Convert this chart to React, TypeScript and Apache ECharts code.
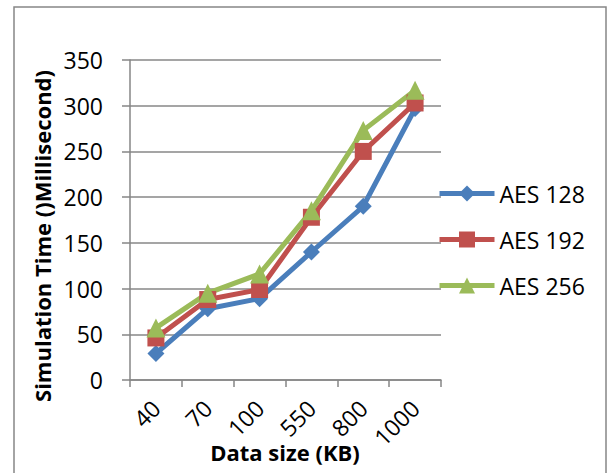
import React, { useEffect, useRef } from "react";
import * as echarts from "echarts";

const categories = ["40", "70", "100", "550", "800", "1000"];
const aes128 = [29, 78, 89, 140, 190, 297];
const aes192 = [46, 88, 99, 178, 250, 303];
const aes256 = [57, 95, 116, 185, 273, 317];
const seriesNames = ["AES 128", "AES 192", "AES 256"];
const yTicks = { min: 0, max: 350, interval: 50 };

const FONT = "'Open Sans', sans-serif";

export default function App() {
  const ref = useRef<HTMLDivElement>(null);
  useEffect(() => {
    if (!ref.current) return;
    const chart = echarts.init(ref.current, undefined, { renderer: "svg" });
    const mk = (name: string, data: number[], color: string, symbol: string, size: number) => ({
      name,
      type: "line",
      data,
      symbol,
      symbolSize: size,
      lineStyle: { color, width: 5 },
      itemStyle: { color },
      z: 3,
    });
    chart.setOption({
      animation: false,
      backgroundColor: "#ffffff",
      grid: { left: 130, right: 168, top: 60, bottom: 93, containLabel: false },
      legend: {
        orient: "vertical",
        left: 432,
        top: 177,
        itemWidth: 55,
        itemHeight: 20,
        itemGap: 23,
        lineStyle: { width: 5 },
        textStyle: { fontFamily: FONT, fontSize: 23, color: "#000" },
        data: seriesNames,
      },
      xAxis: {
        type: "category",
        data: categories,
        boundaryGap: true,
        axisLine: { lineStyle: { color: "#868686", width: 1.5 } },
        axisTick: { show: true, length: 7, alignWithLabel: false, lineStyle: { color: "#868686", width: 1.5 } },
        axisLabel: { rotate: 45, margin: 24, fontFamily: FONT, fontSize: 23, color: "#000" },
        splitLine: { show: false },
      },
      yAxis: {
        type: "value",
        min: yTicks.min,
        max: yTicks.max,
        interval: yTicks.interval,
        axisLine: { show: true, lineStyle: { color: "#868686", width: 1.5 } },
        axisTick: { show: true, length: 8, lineStyle: { color: "#868686", width: 1.5 } },
        axisLabel: { margin: 27, fontFamily: FONT, fontSize: 23, color: "#000" },
        splitLine: { show: true, lineStyle: { color: "#878787", width: 1.5 } },
      },
      series: [
        mk(seriesNames[0], aes128, "#4A7EBB", "diamond", 17),
        mk(seriesNames[1], aes192, "#C0504D", "rect", 17),
        mk(seriesNames[2], aes256, "#9BBB59", "triangle", 19),
      ],
      graphic: [
        {
          type: "rect",
          shape: { x: 14, y: 7, width: 592, height: 480 },
          style: { fill: "none", stroke: "#878787", lineWidth: 1.5 },
          silent: true,
          z: -10,
        },
        {
          type: "text",
          x: 42,
          y: 236,
          rotation: Math.PI / 2,
          style: {
            text: "Simulation Time ()Millisecond)",
            fontFamily: FONT,
            fontSize: 22,
            fontWeight: "bold",
            fill: "#000",
            align: "center",
            verticalAlign: "middle",
          },
        },
        {
          type: "text",
          x: 285,
          y: 452,
          style: {
            text: "Data size (KB)",
            fontFamily: FONT,
            fontSize: 22,
            fontWeight: "bold",
            fill: "#000",
            align: "center",
            verticalAlign: "middle",
          },
        },
      ],
    });
    return () => chart.dispose();
  }, []);
  return (
    <div
      ref={ref}
      style={{ position: "fixed", left: 0, top: 0, width: 609, height: 473 }}
    />
  );
}
